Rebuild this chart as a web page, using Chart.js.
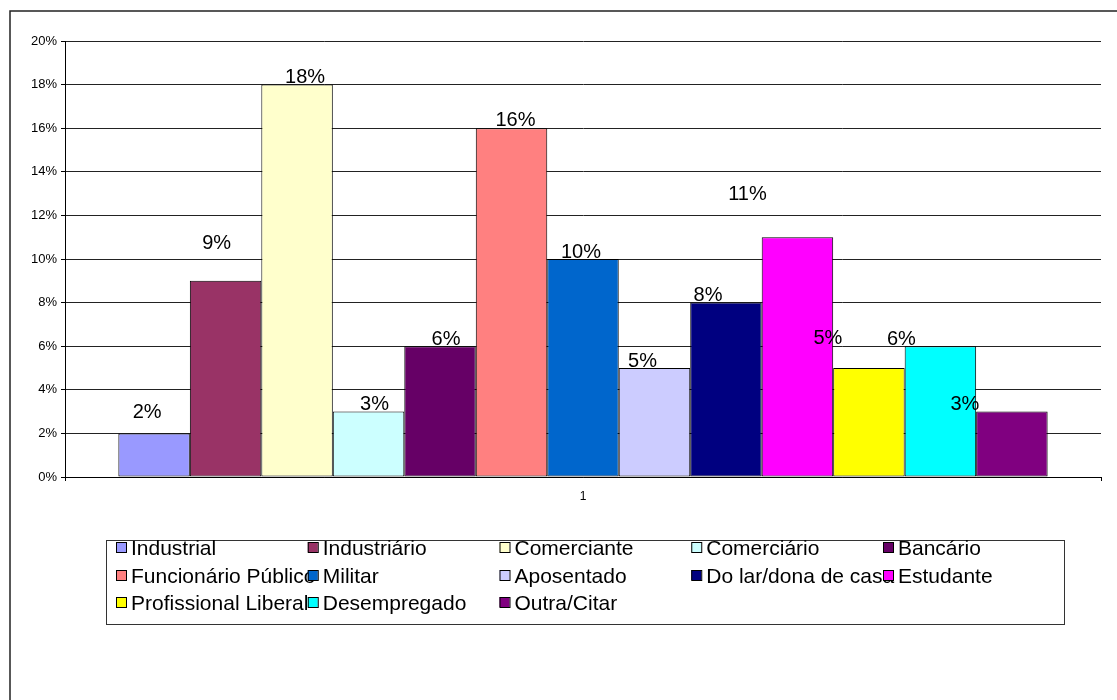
<!DOCTYPE html>
<html>
  <head>
    <title>Ocupação</title>
    <style>
      html, body{ margin: 0; padding: 0; background-color: #ffffff; }
      canvas{ display: block; }
    </style>
    <script src="https://cdn.jsdelivr.net/npm/chart.js"></script>
  </head>
  <body>
    <canvas id="myChart" width="1117" height="700"></canvas>

    <script>
      // Data
      const categories = ['1'];
      const occupations = ['Industrial', 'Industriário', 'Comerciante', 'Comerciário', 'Bancário',
        'Funcionário Público', 'Militar', 'Aposentado', 'Do lar/dona de casa', 'Estudante',
        'Profissional Liberal', 'Desempregado', 'Outra/Citar'];
      const shares = [2, 9, 18, 3, 6, 16, 10, 5, 8, 11, 5, 6, 3];
      const colors = ['#9999FF', '#993366', '#FFFFCC', '#CCFFFF', '#660066',
        '#FF8080', '#0066CC', '#CCCCFF', '#000080', '#FF00FF',
        '#FFFF00', '#00FFFF', '#800080'];

      Chart.defaults.font.family = "'Liberation Sans', Arial, sans-serif";
      Chart.defaults.color = '#000';

      // white page with the chart frame (runs off the right and bottom)
      const framePlugin = {
        id: 'frame',
        beforeDraw(chart) {
          const c = chart.ctx;
          c.save();
          c.fillStyle = '#fff';
          c.fillRect(0, 0, chart.width, chart.height);
          c.strokeStyle = '#222';
          c.lineWidth = 1.5;
          c.strokeRect(10, 11, chart.width + 20, chart.height + 20);
          c.restore();
        }
      };

      // value labels above each bar, nudged like the spreadsheet did
      const valueLabels = {
        id: 'valueLabels',
        afterDatasetsDraw(chart, args, opts) {
          const c = chart.ctx;
          c.save();
          c.font = '20px ' + Chart.defaults.font.family;
          c.fillStyle = '#000';
          c.textAlign = 'center';
          c.textBaseline = 'alphabetic';
          chart.data.datasets.forEach((ds, i) => {
            const bar = chart.getDatasetMeta(i).data[0];
            const nudge = opts.nudge[i] || [0, 1];
            c.fillText(ds.data[0] + '%', bar.x + nudge[0], bar.y - nudge[1]);
          });
          c.restore();
        }
      };

      // boxed legend laid out on a fixed 5-column grid
      const gridLegend = {
        id: 'gridLegend',
        afterDraw(chart, args, opts) {
          const c = chart.ctx;
          c.save();
          c.strokeStyle = '#333';
          c.lineWidth = 1;
          c.strokeRect(opts.left + 0.5, opts.top + 0.5, opts.width, opts.height);
          c.font = '21px ' + Chart.defaults.font.family;
          c.textBaseline = 'alphabetic';
          c.textAlign = 'left';
          chart.data.datasets.forEach((ds, i) => {
            const col = i % opts.columns;
            const row = Math.floor(i / opts.columns);
            const x = opts.left + 10 + col * opts.colWidth;
            const y = Math.round(opts.top + 2 + row * opts.rowHeight);
            c.fillStyle = ds.backgroundColor;
            c.fillRect(x, y, 10, 10);
            c.strokeStyle = '#000';
            c.strokeRect(x + 0.5, y + 0.5, 10, 10);
            c.fillStyle = '#000';
            c.fillText(ds.label, x + 15, y + 13);
          });
          c.restore();
        }
      };

      const ctx = document.getElementById('myChart').getContext('2d');
      const myChart = new Chart(ctx, {
        type: 'bar',
        data: {
          labels: categories,
          datasets: occupations.map((name, i) => ({
            label: name,
            data: [shares[i]],
            backgroundColor: colors[i],
            borderColor: '#000',
            borderWidth: 1,
            borderSkipped: false,
            categoryPercentage: 0.897,
            barPercentage: 1
          }))
        },
        options: {
          responsive: false,
          animation: false,
          layout: {
            padding: { left: 10, top: 41, right: 16, bottom: 193 }
          },
          scales: {
            y: {
              min: 0,
              max: 20,
              afterFit(scale) { scale.width = 55; },
              ticks: {
                stepSize: 2,
                padding: 4,
                font: { size: 13 },
                color: '#000',
                callback: v => v + '%'
              },
              grid: {
                color: '#222',
                lineWidth: 1,
                tickLength: 4,
                tickColor: '#000'
              },
              border: { color: '#000', width: 1 }
            },
            x: {
              afterFit(scale) { scale.height = 30; },
              ticks: {
                padding: 8,
                font: { size: 12 },
                color: '#000'
              },
              grid: {
                drawOnChartArea: false,
                tickLength: 4,
                tickColor: '#000'
              },
              border: { color: '#000', width: 1 }
            }
          },
          plugins: {
            legend: { display: false },
            tooltip: { enabled: false },
            valueLabels: {
              nudge: [[-7, 15], [-9, 32], [8, 2], [6, 2], [6, 1], [4, 2], [-2, 1],
                [-12, 1], [-18, 2], [-50, 37], [-41, 24], [-39, 1], [-47, 2]]
            },
            gridLegend: {
              left: 106, top: 540, width: 958, height: 84,
              columns: 5, colWidth: 191.75, rowHeight: 27.5
            }
          }
        },
        plugins: [framePlugin, valueLabels, gridLegend]
      });
    </script>
  </body>
</html>
